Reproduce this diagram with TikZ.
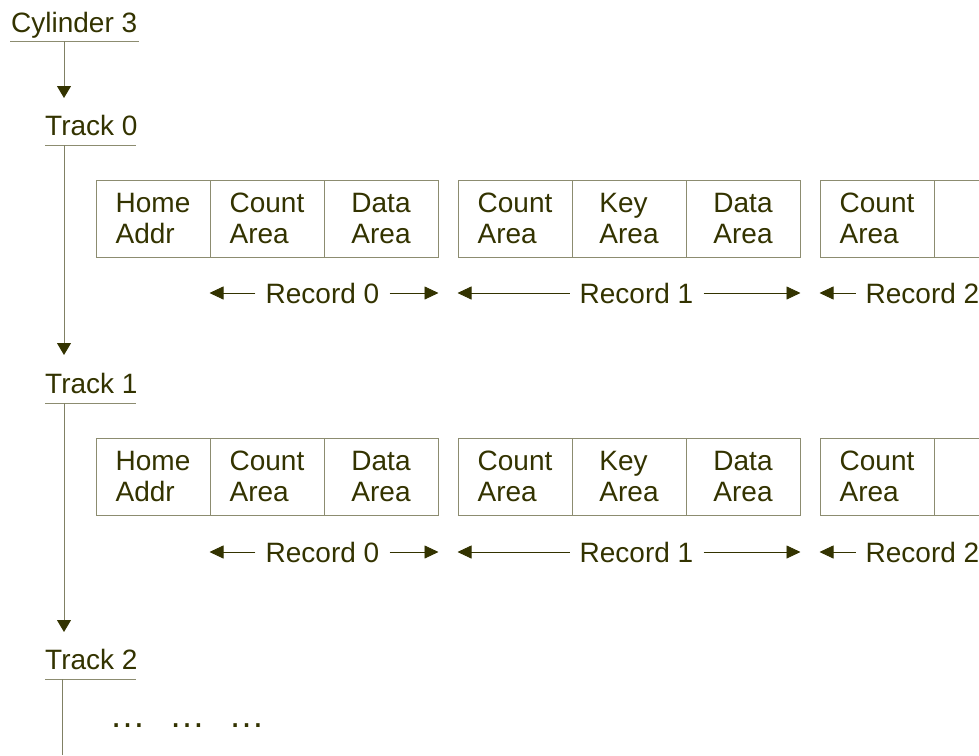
\documentclass[tikz,border=0pt]{standalone}
\usepackage{fontspec}
\setmainfont{Liberation Sans}
\usetikzlibrary{arrows.meta}
\definecolor{ink}{RGB}{51,51,0}
\definecolor{rulec}{RGB}{140,140,112}
\definecolor{linkc}{RGB}{128,128,100}

\begin{document}
\begin{tikzpicture}[x=1pt,y=-1pt,
  every node/.style={text=ink, font=\fontsize{28}{31}\selectfont, inner sep=0pt},
  title/.style={anchor=base west},
  underline/.style={draw=rulec, line width=1pt},
  cell/.style={draw=rulec, line width=1pt, minimum width=114pt, minimum height=77pt, align=left},
  flow/.style={draw=linkc, line width=1pt, -{Triangle[length=12pt,width=14pt,color=ink]}},
  trunk/.style={draw=linkc, line width=1pt},
  span/.style={draw=ink, line width=0.8pt, -{Triangle[length=14pt,width=13pt,color=ink]}},
  reclabel/.style={inner xsep=10pt},
  dots/.style={anchor=base, font=\fontsize{36}{36}\selectfont}]

\useasboundingbox (0,0) rectangle (979,755);
\clip (0,0) rectangle (979,755);

% cylinder and track headings
\node[title] (cyl) at (11,32) {Cylinder 3};
\node[title] (trk0) at (45,135) {Track 0};
\node[title] (trk1) at (45,393) {Track 1};
\node[title] (trk2) at (45,669) {Track 2};

\draw[underline] ([xshift=-1pt,yshift=-9pt]cyl.base west) -- ([xshift=2pt,yshift=-9pt]cyl.base east);
\foreach \t in {0,1,2}
  \draw[underline] ([yshift=-10pt]trk\t.base west) -- ([xshift=-2pt,yshift=-10pt]trk\t.base east);

% vertical links between headings
\coordinate (cylfoot) at (64,41);
\coordinate (t0head) at (64,98);
\coordinate (t0foot) at (64,145);
\coordinate (t1head) at (64,355);
\coordinate (t1foot) at (64,403);
\coordinate (t2head) at (64,632);
\coordinate (t2foot) at (62,679);
\coordinate (t2end) at (62,755);

\draw[flow] (cylfoot) -- (t0head);
\draw[flow] (t0foot) -- (t1head);
\draw[flow] (t1foot) -- (t2head);
\draw[trunk] (t2foot) -- (t2end);

% records on each track
\foreach \r/\y/\ry in {0/218.5/293, 1/476.5/552} {
  \node[cell] (home\r) at (153,\y) {Home\\Addr};
  \node[cell] (cntA\r) at (267,\y) {Count\\Area};
  \node[cell] (datA\r) at (381,\y) {Data\\Area};
  \node[cell] (cntB\r) at (515,\y) {Count\\Area};
  \node[cell] (keyB\r) at (629,\y) {Key\\Area};
  \node[cell] (datB\r) at (743,\y) {Data\\Area};
  \node[cell] (cntC\r) at (877,\y) {Count\\Area};
  \node[cell] (nxtC\r) at (991,\y) {};

  \node[reclabel] (recA\r) at (322.5,\ry) {Record 0};
  \node[reclabel] (recB\r) at (636.5,\ry) {Record 1};
  \node[reclabel] (recC\r) at (922.5,\ry) {Record 2};

  \draw[span] (recA\r.west) -- (recA\r.west -| cntA\r.west);
  \draw[span] (recA\r.east) -- (recA\r.east -| datA\r.east);
  \draw[span] (recB\r.west) -- (recB\r.west -| cntB\r.west);
  \draw[span] (recB\r.east) -- (recB\r.east -| datB\r.east);
  \draw[span] (recC\r.west) -- (recC\r.west -| cntC\r.west);
}

% continuation marks under track 2
\node[dots] (more1) at (127.5,727) {…};
\node[dots] (more2) at (187,727) {…};
\node[dots] (more3) at (246.5,727) {…};
\end{tikzpicture}
\end{document}
